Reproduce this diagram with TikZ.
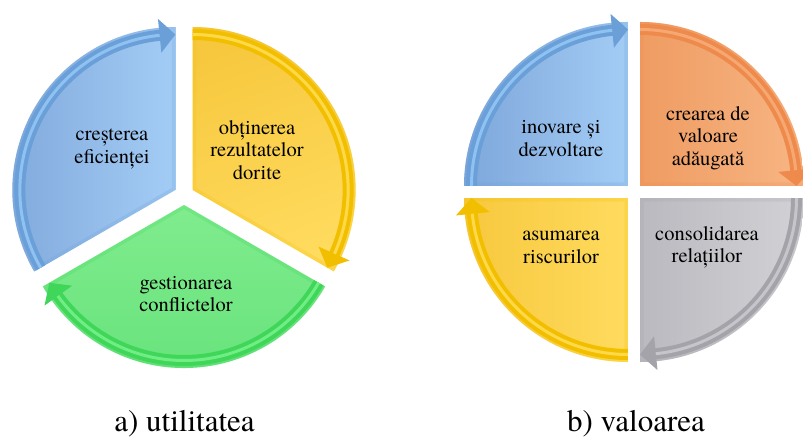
\documentclass[tikz,border=0pt]{standalone}
\usepackage{fontspec}
\setmainfont{texgyretermes}[Extension=.otf, UprightFont=*-regular, BoldFont=*-bold, ItalicFont=*-italic]
\usetikzlibrary{calc}

% One exploded pie piece with a curved arrow running clockwise along its rim.
% #1 centre, #2 radius (pt), #3 tail angle, #4 head angle, #5 explode distance (pt),
% #6 fill/shading options, #7 arrow colour, #8 arrow highlight colour
\newcommand{\cyclepiece}[8]{%
  \pgfmathsetmacro\cphb{#4+sign(#3-#4)*5.8}%
  \pgfmathsetmacro\cpmid{(#3+#4)/2}%
  \begin{scope}[shift={(#1)}, shift={(\cpmid:#5pt)}]
    \path[#6] (0,0) -- ({#3}:{#2pt}) arc[start angle=#3, end angle=#4, radius=#2pt] -- cycle;
    % soft bevel along the piece's edges
    \begin{scope}
      \clip (0,0) -- ({#3}:{#2pt}) arc[start angle=#3, end angle=#4, radius=#2pt] -- cycle;
      \draw[#7, opacity=0.22, line width=7pt, line join=round]
        (0,0) -- ({#3}:{#2pt}) arc[start angle=#3, end angle=#4, radius=#2pt] -- cycle;
    \end{scope}
    \fill[#7] ({#3}:{#2pt-2pt}) arc[start angle=#3, end angle=\cphb, radius=#2pt-2pt]
      -- ({\cphb}:{#2pt+9pt}) -- ({#4}:{#2pt-7.5pt}) -- ({\cphb}:{#2pt-25pt})
      -- ({\cphb}:{#2pt-13pt}) arc[start angle=\cphb, end angle=#3, radius=#2pt-13pt] -- cycle;
    \draw[#8, line width=3pt] ({#3}:{#2pt-7.5pt}) arc[start angle=#3, end angle=\cphb, radius=#2pt-7.5pt];
  \end{scope}}

\definecolor{blueA}{HTML}{7EA7DB}
\definecolor{blueB}{HTML}{A3CCF5}
\definecolor{blueBand}{HTML}{6B9FD8}
\definecolor{blueHi}{HTML}{8EC2F2}
\definecolor{yelA}{HTML}{F7C83E}
\definecolor{yelB}{HTML}{FFDB5E}
\definecolor{yelBand}{HTML}{F2BF00}
\definecolor{yelHi}{HTML}{FFD94A}
\definecolor{grnA}{HTML}{66E27A}
\definecolor{grnB}{HTML}{80EC8E}
\definecolor{grnBand}{HTML}{3FD65A}
\definecolor{grnHi}{HTML}{70EE84}
\definecolor{orgA}{HTML}{EF9C62}
\definecolor{orgB}{HTML}{F7B583}
\definecolor{orgBand}{HTML}{EE8A4C}
\definecolor{orgHi}{HTML}{F6A872}
\definecolor{gryA}{HTML}{B9B9BF}
\definecolor{gryB}{HTML}{D2D2D6}
\definecolor{gryBand}{HTML}{A3A3A9}
\definecolor{gryHi}{HTML}{C6C6CA}

\tikzset{
  inner/.style={align=center, font=\fontsize{20.5}{22.5}\selectfont, text=black, inner sep=0pt},
  caption/.style={anchor=base, font=\fontsize{31}{36}\selectfont, text=black, inner sep=0pt}
}

\begin{document}
\begin{tikzpicture}[x=1pt, y=1pt]
  \useasboundingbox (0,0) rectangle (803,439);

  % a) three-piece cycle
  \coordinate (ca) at (184,244);
  \cyclepiece{ca}{163}{210}{90}{10}{left color=blueA, right color=blueB}{blueBand}{blueHi}
  \cyclepiece{ca}{163}{90}{-30}{10}{left color=yelA, right color=yelB, shading angle=20}{yelBand}{yelHi}
  \cyclepiece{ca}{163}{-30}{-150}{10}{top color=grnB, bottom color=grnA}{grnBand}{grnHi}

  \node[inner] (eff) at (112,290) {creșterea\\eficienței};
  \node[inner] (rez) at (257,289) {obținerea\\rezultatelor\\dorite};
  \node[inner] (con) at (186,145) {gestionarea\\conflictelor};

  % b) four-quadrant cycle
  \coordinate (cb) at (634,247);
  \cyclepiece{cb}{164}{180}{90}{8.5}{left color=blueA, right color=blueB}{blueBand}{blueHi}
  \cyclepiece{cb}{164}{90}{0}{8.5}{left color=orgA, right color=orgB}{orgBand}{orgHi}
  \cyclepiece{cb}{164}{0}{-90}{8.5}{left color=gryA, right color=gryB}{gryBand}{gryHi}
  \cyclepiece{cb}{164}{-90}{-180}{8.5}{left color=yelA, right color=yelB}{yelBand}{yelHi}

  \node[inner] (ino) at (561,300.5) {inovare și\\dezvoltare};
  \node[inner] (val) at (708,301) {crearea de\\valoare\\adăugată};
  \node[inner] (ris) at (561,191.5) {asumarea\\riscurilor};
  \node[inner] (rel) at (707,191.5) {consolidarea\\relațiilor};

  % captions
  \node[caption] (capa) at (184.5,7) {a) utilitatea};
  \node[caption] (capb) at (636,7) {b) valoarea};
\end{tikzpicture}
\end{document}
